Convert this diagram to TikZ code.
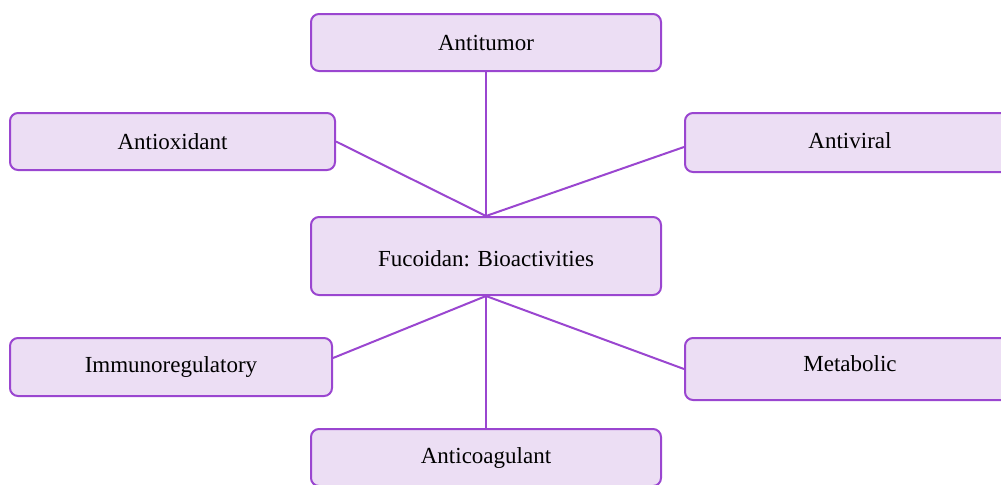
\documentclass[tikz,border=0pt]{standalone}
\usepackage{fontspec}
\setmainfont{Liberation Serif}
\definecolor{boxfill}{HTML}{ECDEF4}
\definecolor{boxline}{HTML}{9A46D0}
\newcommand\nudge[2]{\raisebox{#1}[\height][\depth]{#2}}

\begin{document}
\begin{tikzpicture}[x=0.5pt, y=-0.5pt,
  act/.style={draw=boxline, fill=boxfill, line width=1pt, rounded corners=4pt,
    inner sep=0pt, font=\fontsize{11.5}{14}\selectfont},
  link/.style={draw=boxline, line width=1pt}]

\useasboundingbox (0,0) rectangle (1001,484);
\clip (0,0) rectangle (1001,484);

\node[act, minimum width=175pt, minimum height=39pt] (core) at (486,256) {\nudge{-1.5pt}{Fucoidan: Bioactivities}};
\node[act, minimum width=175pt, minimum height=28.5pt] (tumor) at (486,42.5) {Antitumor};
\node[act, minimum width=162.5pt, minimum height=28.5pt] (oxid) at (172.5,141.5) {Antioxidant};
\node[act, minimum width=165pt, minimum height=29.5pt] (viral) at (850,142.5) {\nudge{1pt}{Antiviral}};
\node[act, minimum width=161pt, minimum height=29pt] (immuno) at (171,367) {Immunoregulatory};
\node[act, minimum width=165pt, minimum height=31pt] (metab) at (850,369) {\nudge{2.5pt}{Metabolic}};
\node[act, minimum width=175pt, minimum height=28.5pt] (coag) at (486,457.5) {Anticoagulant};

\draw[link] (core.north) -- (tumor.south);
\draw[link] (core.north) -- (oxid.east);
\draw[link] (core.north) -- ([yshift=-2.25pt]viral.west);
\draw[link] (core.south) -- ([yshift=4.5pt]immuno.east);
\draw[link] (core.south) -- (metab.west);
\draw[link] (core.south) -- (coag.north);

\end{tikzpicture}
\end{document}
